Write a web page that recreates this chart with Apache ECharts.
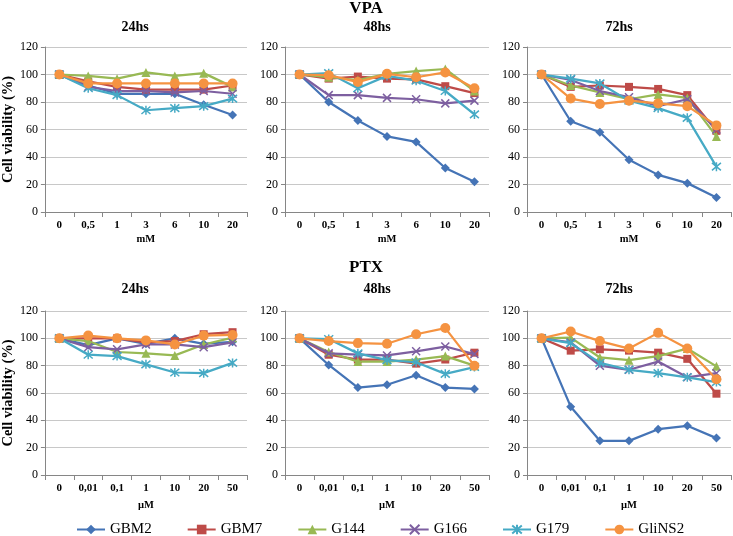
<!DOCTYPE html>
<html><head><meta charset="utf-8">
<script src="https://cdn.jsdelivr.net/npm/echarts@6/dist/echarts.min.js"></script>
<style>html,body{margin:0;padding:0;background:#fff}#c{width:733px;height:536px}</style>
</head><body><div id="c"></div>
<script>
const seriesNames = ['GBM2','GBM7','G144','G166','G179','GliNS2'];
const vpaCats = ['0','0,5','1','3','6','10','20'];
const ptxCats = ['0','0,01','0,1','1','10','20','50'];
const yTicks = [0,20,40,60,80,100,120];

// VPA
const vpa24_GBM2 = [100,92,86,86,86,78,70.5];
const vpa24_GBM7 = [100,95,91,89,89,89,92];
const vpa24_G144 = [100,99,97,101.5,99,101,91];
const vpa24_G166 = [100,91,88,88,87,88,86];
const vpa24_G179 = [100,90,85,74,75.5,77,82.5];
const vpa24_GliNS2 = [100,93.5,93.5,93.5,93.5,93.5,93.5];

const vpa48_GBM2 = [100,80,66.5,55,51,32,22];
const vpa48_GBM7 = [100,97,98.5,97,96.5,91.5,86.5];
const vpa48_G144 = [100,98,96,100.5,102.5,104,88];
const vpa48_G166 = [100,85,85,83,82,79,81];
const vpa48_G179 = [100,101,90,99,95.5,88,71];
const vpa48_GliNS2 = [100,99.5,94.5,100.5,98,101.5,90];

const vpa72_GBM2 = [100,66,58,38,27,21,10.5];
const vpa72_GBM7 = [100,91,92,91,89.5,85,59];
const vpa72_G144 = [100,92,87,82,85.5,83,55];
const vpa72_G166 = [100,96,88,83.5,77,82,60];
const vpa72_G179 = [100,97,93.5,81,75.5,68.5,33];
const vpa72_GliNS2 = [100,82.5,78.5,81,79,77,63];

// PTX
const ptx24_GBM2 = [100,95,100,96,100,96,97.5];
const ptx24_GBM7 = [100,100,100,97,98,103,104.5];
const ptx24_G144 = [100,98,90,89,87.5,95.5,100.5];
const ptx24_G166 = [100,93.5,92,95.5,95.5,93.5,97];
const ptx24_G179 = [100,88,87,81,75,74.5,82];
const ptx24_GliNS2 = [100,102,100,98.5,95.5,102,102.5];

const ptx48_GBM2 = [100,80.5,64,66,73,64,63];
const ptx48_GBM7 = [100,88,84.5,84.5,81.5,84.5,89.5];
const ptx48_G144 = [100,90,83,83,84.5,87,80];
const ptx48_G166 = [100,89,88,87.5,90.5,94,88.5];
const ptx48_G179 = [100,99.5,89,84,82.5,74,79];
const ptx48_GliNS2 = [100,98,96.5,96,103,107.5,80];

const ptx72_GBM2 = [100,50,25,25,33.5,36,27];
const ptx72_GBM7 = [100,91,92,91,89.5,85,59.5];
const ptx72_G144 = [100,100.5,86,84,87,92.5,79.5];
const ptx72_G166 = [100,97,80,77,83,71.5,74.5];
const ptx72_G179 = [100,96.5,82,77,74.5,71.5,68];
const ptx72_GliNS2 = [100,105,98,92.5,104,92.5,70];

const panels = [
  {title:'24hs', unit:'mM', cats:vpaCats, data:[vpa24_GBM2,vpa24_GBM7,vpa24_G144,vpa24_G166,vpa24_G179,vpa24_GliNS2]},
  {title:'48hs', unit:'mM', cats:vpaCats, data:[vpa48_GBM2,vpa48_GBM7,vpa48_G144,vpa48_G166,vpa48_G179,vpa48_GliNS2]},
  {title:'72hs', unit:'mM', cats:vpaCats, data:[vpa72_GBM2,vpa72_GBM7,vpa72_G144,vpa72_G166,vpa72_G179,vpa72_GliNS2]},
  {title:'24hs', unit:'µM', cats:ptxCats, data:[ptx24_GBM2,ptx24_GBM7,ptx24_G144,ptx24_G166,ptx24_G179,ptx24_GliNS2]},
  {title:'48hs', unit:'µM', cats:ptxCats, data:[ptx48_GBM2,ptx48_GBM7,ptx48_G144,ptx48_G166,ptx48_G179,ptx48_GliNS2]},
  {title:'72hs', unit:'µM', cats:ptxCats, data:[ptx72_GBM2,ptx72_GBM7,ptx72_G144,ptx72_G166,ptx72_G179,ptx72_GliNS2]}
];

const colors = ['#4574B6','#BE4B48','#98B954','#7D5FA0','#46AAC5','#F59341'];
const symbols = ['diamond','rect','triangle','path://M0,0L10,10M10,0L0,10','path://M0,0L10,10M10,0L0,10M5,-1L5,11','circle'];
const symSizes = [9,8,9,8,9,10];
const FONT = '"Liberation Serif","Times New Roman",serif';

const lefts = [43,285,527];
const tops = [47,311];
const heights = [165,164];
const W = 204;

const grids=[], xAxes=[], yAxes=[], series=[], graphics=[];
panels.forEach((p,i)=>{
  const col=i%3, row=Math.floor(i/3);
  grids.push({left:lefts[col], top:tops[row], width:W, height:heights[row]});
  xAxes.push({type:'category', gridIndex:i, data:p.cats, boundaryGap:true,
    axisLine:{lineStyle:{color:'#868686',width:1}},
    axisTick:{show:true,length:5,alignWithLabel:false,lineStyle:{color:'#868686'}},
    axisLabel:{fontFamily:FONT,fontWeight:'bold',fontSize:11,color:'#000',margin:8},
    name:p.unit, nameLocation:'middle', nameGap: row===0?22:25,
    nameTextStyle:{fontFamily:FONT,fontWeight:'bold',fontSize:10.5,color:'#000'}});
  const y={type:'value', gridIndex:i, min:0, max:120, interval:20,
    axisLine:{show:true,lineStyle:{color:'#868686'}},
    axisTick:{show:true,length:4,lineStyle:{color:'#868686'}},
    splitLine:{lineStyle:{color:'#c8c8c8'}},
    axisLabel:{fontFamily:FONT,fontSize:12,color:'#000',margin:7}};
  if(col===0){
    y.name='Cell viability (%)'; y.nameLocation='middle'; y.nameGap=26;
    y.nameTextStyle={fontFamily:FONT,fontWeight:'bold',fontSize:14.5,color:'#000'};
  }
  yAxes.push(y);
  p.data.forEach((d,k)=>{
    const isStroke = (k===3||k===4);
    series.push({type:'line', name:seriesNames[k], xAxisIndex:i, yAxisIndex:i, data:d,
      symbol:symbols[k], symbolSize:symSizes[k], showAllSymbol:true,
      lineStyle:{color:colors[k], width:2.25},
      itemStyle:{color:colors[k], borderColor:colors[k], borderWidth:isStroke?1.5:0},
      emphasis:{disabled:true}, animation:false, z:2+k});
  });
  graphics.push({type:'text', x:lefts[col]+W/2-10, y: row===0?20:282,
    style:{text:p.title, textAlign:'center', textVerticalAlign:'top', font:'bold 14px '+FONT, fill:'#000'}});
});
graphics.push({type:'text', x:366, y:0, style:{text:'VPA', textAlign:'center', textVerticalAlign:'top', font:'bold 17px '+FONT, fill:'#000'}});
graphics.push({type:'text', x:366, y:259, style:{text:'PTX', textAlign:'center', textVerticalAlign:'top', font:'bold 17px '+FONT, fill:'#000'}});

const chart = echarts.init(document.getElementById('c'), null, {renderer:'canvas'});
chart.setOption({
  animation:false,
  grid:grids, xAxis:xAxes, yAxis:yAxes, series:series, graphic:graphics,
  legend:{data:seriesNames, top:522, left:76, itemWidth:28, itemHeight:12, itemGap:35, padding:0,
    textStyle:{fontFamily:FONT,fontSize:15,color:'#000'}}
});
</script></body></html>
